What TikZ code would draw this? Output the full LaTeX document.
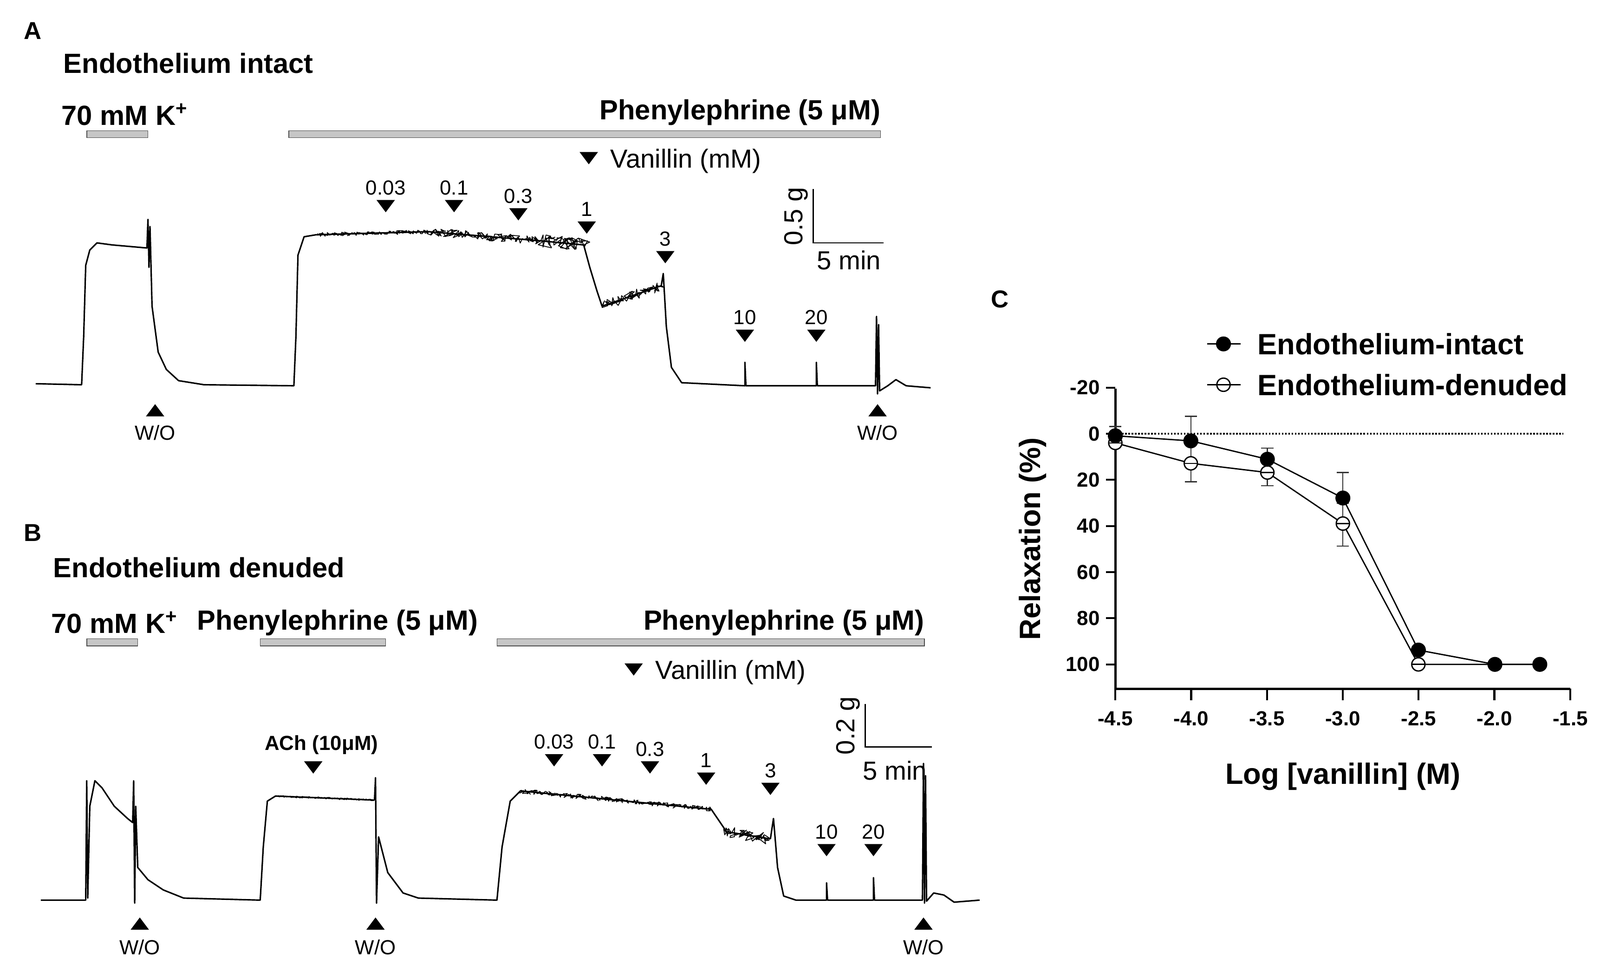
\documentclass[tikz,border=0pt]{standalone}
\usepackage{fontspec}
\setmainfont{Liberation Sans}
\usetikzlibrary{decorations.pathmorphing}
\tikzset{
  trace/.style={line width=0.9pt,line join=round},
  noisy/.style={line width=0.5pt,line join=round,decorate,decoration={random steps,segment length=0.5pt,amplitude=#1}},
  drugbar/.style={fill=gray!45,draw=gray!60!black,line width=0.4pt},
  lbl/.style={font=\fontsize{16}{18}\selectfont,inner sep=0pt},
  blbl/.style={font=\bfseries\fontsize{17}{19}\selectfont,inner sep=0pt},
  small/.style={font=\fontsize{12.5}{14}\selectfont,inner sep=0pt},
  panel/.style={font=\bfseries\fontsize{15}{17}\selectfont,inner sep=0pt},
  tick/.style={font=\bfseries\fontsize{12.5}{14}\selectfont,inner sep=0pt},
  tdown/.pic={\fill (-9,-6)--(9,-6)--(0,6)--cycle;},
  tup/.pic={\fill (-9,6)--(9,6)--(0,-6)--cycle;},
  fmark/.style={circle,fill=black,draw=black,minimum size=14*0.021977cm,inner sep=0pt},
  omark/.style={circle,fill=white,draw=black,line width=0.8pt,minimum size=13*0.021977cm,inner sep=0pt},
}
\begin{document}
\begin{tikzpicture}[x=0.021977cm,y=-0.021977cm]
\useasboundingbox (0,0) rectangle (1568,951);
% ---------- panel A ----------
\node[panel] (pA) at (32,30) {A};
\node[blbl,anchor=west] (tA) at (62,62) {Endothelium intact};
\node[blbl,anchor=west] (kA) at (60,112) {70 mM K\textsuperscript{+}};
\draw[drugbar] (85,128) rectangle (145,135);
\node[blbl,anchor=east] (peA) at (863,110) {Phenylephrine (5 μM)};
\draw[drugbar] (283,128) rectangle (863,135);
\pic at (577,155) {tdown};
\node[lbl,anchor=west] (vA) at (598,158) {Vanillin (mM)};
\draw[line width=0.8pt] (797,185) -- (797,238) -- (866,238);
\node[lbl,rotate=90] (sgA) at (780,212) {0.5 g};
\node[lbl] (smA) at (832,255) {5 min};
\foreach \x/\y/\t in {378/202/0.03,445/202/0.1,508/210/0.3,575/223/1,652/252/3,730/329/10,800/329/20}{
  \pic at (\x,\y) {tdown};
  \node[small] at (\x,\y-18) {\t};
}
\foreach \x in {152,860}{
  \pic at (\x,402) {tup};
  \node[small] at (\x,424) {W/O};
}
\draw[trace] (35,376) -- (80,377) -- (82,330) -- (84,260) -- (88,245) -- (95,238) -- (110,240) -- (144,243)
  -- (145,215) -- (146,262) -- (147,222) -- (149,300) -- (155,345) -- (163,362) -- (175,373) -- (200,377)
  -- (288,378) -- (290,330) -- (292,250) -- (298,232) -- (310,230);
\draw[trace] (310,230) -- (420,227) -- (530,236) -- (572,240);
\draw[noisy=1.2pt] (310,230) -- (420,227);
\draw[noisy=2.5pt] (420,227) -- (530,236);
\draw[noisy=4pt] (530,236) -- (572,240);
\draw[trace] (572,240) -- (578,262) -- (585,285) -- (590,300) -- (648,280);
\draw[noisy=3pt] (590,300) -- (648,280);
\draw[trace] (648,280) -- (650,268) -- (653,320) -- (658,360) -- (668,375) -- (730,378) -- (730,355) -- (731,378)
  -- (800,378) -- (800,355) -- (801,378) -- (858,378) -- (859,310) -- (860,386) -- (861,318) -- (862,383)
  -- (870,378) -- (878,372) -- (888,378) -- (912,380);
% ---------- panel B ----------
\node[panel] (pB) at (32,522) {B};
\node[blbl,anchor=west] (tB) at (52,556) {Endothelium denuded};
\node[blbl,anchor=west] (kB) at (50,610) {70 mM K\textsuperscript{+}};
\draw[drugbar] (85,626) rectangle (135,633);
\node[blbl,anchor=west] (pe1B) at (193,610) {Phenylephrine (5 μM)};
\draw[drugbar] (255,626) rectangle (378,633);
\node[blbl,anchor=east] (pe2B) at (906,610) {Phenylephrine (5 μM)};
\draw[drugbar] (487,626) rectangle (906,633);
\pic at (621,656) {tdown};
\node[lbl,anchor=west] (vB) at (642,659) {Vanillin (mM)};
\draw[line width=0.8pt] (848,690) -- (848,732) -- (913,732);
\node[lbl,rotate=90] (sgB) at (831,711) {0.2 g};
\node[lbl] (smB) at (877,755) {5 min};
\node[tick] (ach) at (315,730) {ACh (10μM)};
\pic at (307,752) {tdown};
\foreach \x/\y/\t in {543/745/0.03,590/745/0.1,637/752/0.3,692/763/1,755/773/3,810/833/10,856/833/20}{
  \pic at (\x,\y) {tdown};
  \node[small] at (\x,\y-18) {\t};
}
\foreach \x in {137,368,905}{
  \pic at (\x,905) {tup};
  \node[small] at (\x,928) {W/O};
}
\draw[trace] (40,882) -- (84,882) -- (85,765) -- (86,880) -- (88,790) -- (93,765) -- (100,772) -- (112,790)
  -- (125,802) -- (130,806) -- (131,765) -- (132,885) -- (133,790) -- (135,850) -- (145,862) -- (160,872)
  -- (180,880) -- (255,882) -- (258,830) -- (262,785) -- (270,780) -- (367,784);
\draw[noisy=0.6pt] (270,780) -- (367,784);
\draw[trace] (367,784) -- (368,762) -- (369,885) -- (371,820) -- (380,855) -- (395,875) -- (410,880)
  -- (487,882) -- (492,830) -- (500,785) -- (510,775) -- (697,793) -- (712,815) -- (755,822);
\draw[noisy=1.5pt] (510,775) -- (697,793);
\draw[noisy=3.5pt] (712,815) -- (755,822);
\draw[trace] (755,822) -- (758,802) -- (762,850) -- (768,878) -- (780,882) -- (810,882) -- (810,865) -- (811,882)
  -- (856,882) -- (856,860) -- (857,882) -- (904,882) -- (905,748) -- (906,885) -- (907,760) -- (908,883)
  -- (915,875) -- (925,877) -- (935,884) -- (960,882);
% ---------- panel C ----------
\node[panel] (pC) at (980,293) {C};
\draw[line width=1.4pt] (1093,381) -- (1093,675) -- (1539,675);
\foreach \r in {-20,0,20,40,60,80,100}{
  \draw[line width=1.2pt] (1093,425+\r*2.26) -- (1084,425+\r*2.26);
  \node[tick,anchor=east] at (1078,425+\r*2.26) {\r};
}
\foreach \v [count=\i from 0] in {-4.5,-4.0,-3.5,-3.0,-2.5,-2.0,-1.5}{
  \draw[line width=1.2pt] (1093+\i*74.3,675) -- (1093+\i*74.3,686);
  \node[tick] at (1093+\i*74.3,704) {\v};
}
\draw[densely dotted,line width=1pt] (1093,425) -- (1532,425);
\node[font=\bfseries\fontsize{18}{20}\selectfont,rotate=90] (yl) at (1012,528) {Relaxation (\%)};
\node[font=\bfseries\fontsize{18}{20}\selectfont] (xl) at (1316,761) {Log [vanillin] (M)};
% error bars
\foreach \x/\a/\b in {1093/418/436,1167/408/456,1242/439/461,1316/463/513, 1167/436/472,1242/450/476,1316/493/535}{
  \draw[line width=0.7pt,gray!40!black] (\x,\a) -- (\x,\b) (\x-6,\a) -- (\x+6,\a) (\x-6,\b) -- (\x+6,\b);
}
\draw[line width=0.8pt] (1093,434) -- (1167,454) -- (1242,463) -- (1316,513) -- (1390,651) -- (1465,651) -- (1509,651);
\draw[line width=0.8pt] (1093,427) -- (1167,432) -- (1242,450) -- (1316,488) -- (1390,637) -- (1465,651) -- (1509,651);
\foreach \x/\y [count=\i] in {1093/434,1167/454,1242/463,1316/513,1390/651}{
  \node[omark] (d\i) at (\x,\y) {};
  \draw[line width=0.7pt] (\x-6.5,\y) -- (\x+6.5,\y);
}
\foreach \x/\y [count=\i] in {1093/427,1167/432,1242/450,1316/488,1390/637,1465/651,1509/651}{
  \node[fmark] (n\i) at (\x,\y) {};
}
% legend
\draw[line width=0.8pt] (1183,337) -- (1216,337);
\node[fmark] (lg1) at (1199,337) {};
\node[blbl,anchor=west,font=\bfseries\fontsize{18}{20}\selectfont] (lt1) at (1232,337) {Endothelium-intact};
\draw[line width=0.8pt] (1183,377) -- (1216,377);
\node[omark] (lg2) at (1199,377) {};
\draw[line width=0.7pt] (1192.5,377) -- (1205.5,377);
\node[blbl,anchor=west,font=\bfseries\fontsize{18}{20}\selectfont] (lt2) at (1232,377) {Endothelium-denuded};
\end{tikzpicture}
\end{document}
